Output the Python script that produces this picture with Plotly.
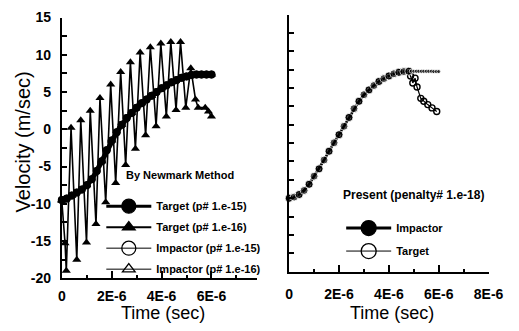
import plotly.graph_objects as go

FONT = "Liberation Sans, Arial, sans-serif"

# ---------------- data (time in microseconds, velocity in m/s) ----------------
# Left panel: Newmark method
newmark_t15_us = [0.0, 0.2, 0.4, 0.6, 0.8, 1.0, 1.2, 1.4, 1.6, 1.8, 2.0, 2.2, 2.4, 2.6, 2.8,
                  3.0, 3.2, 3.4, 3.6, 3.8, 4.0, 4.2, 4.4, 4.6, 4.8, 5.0, 5.2, 5.4, 5.6, 5.8, 6.0]
newmark_target15_v = [-9.5, -9.3, -8.9, -8.5, -8.1, -7.5, -6.7, -5.6, -4.3, -2.8, -1.5, -0.4, 0.6,
                      1.5, 2.2, 2.9, 3.5, 4.0, 4.5, 5.0, 5.5, 5.9, 6.3, 6.6, 6.9, 7.1, 7.3, 7.35,
                      7.35, 7.35, 7.35]
newmark_impactor15_v = [-9.5, -9.3, -8.9, -8.5, -8.1, -7.5, -6.7, -5.6, -4.3, -2.8, -1.5, -0.4, 0.6,
                        1.5, 2.2, 2.9, 3.5, 4.0, 4.5, 5.0, 5.5, 5.9, 6.3, 6.6, 6.9, 7.1, 7.3, 7.35,
                        7.35, 7.35, 7.35]

newmark_t16_us = [0.0, 0.13, 0.18, 0.37, 0.60, 0.76, 0.99, 1.14, 1.37, 1.53, 1.76, 1.96, 2.16,
                  2.36, 2.56, 2.75, 2.95, 3.14, 3.36, 3.55, 3.78, 3.97, 4.19, 4.37, 4.58, 4.76,
                  4.97, 5.17, 5.36, 5.47, 5.75, 5.88, 6.0]
newmark_target16_v = [-9.6, -15.3, -19.0, 0.2, -17.5, 1.2, -15.2, 2.5, -12.7, 4.2, -9.8, 6.0,
                      -7.2, 7.7, -4.8, 9.0, -2.6, 10.3, -0.8, 11.0, 0.4, 11.5, 1.7, 11.7, 2.6,
                      11.7, 2.9, 8.2, 4.0, 2.9, 2.9, 2.4, 1.7]
newmark_impactor16_t_us = [0.0, 0.4, 1.0, 1.6, 2.0, 2.4, 2.8, 3.2, 3.6, 4.0, 4.4, 4.8, 5.2,
                           5.6, 5.8, 6.0]
newmark_impactor16_v = [-9.5, -8.9, -7.5, -4.3, -1.5, 0.6, 2.2, 3.5, 4.5, 5.5, 6.3, 6.9, 7.3,
                        7.35, 7.35, 7.35]

# Right panel: present method (penalty# 1.e-18)
present_impactor_t_us = [0.0, 0.2, 0.4, 0.6, 0.8, 1.0, 1.2, 1.4, 1.6, 1.8, 2.0, 2.2, 2.4, 2.6,
                         2.8, 3.0, 3.2, 3.4, 3.6, 3.8, 4.0, 4.2, 4.4, 4.6, 4.8,
                         4.9, 5.0, 5.1, 5.2, 5.3, 5.4, 5.5, 5.6, 5.7, 5.8, 5.9, 6.0]
present_impactor_v = [-10.0, -9.85, -9.5, -8.95, -8.1, -7.0, -6.0, -4.8, -3.6, -2.45, -1.35,
                      -0.2, 1.0, 2.2, 3.2, 4.1, 4.75, 5.35, 5.9, 6.3, 6.65, 6.95, 7.15, 7.25,
                      7.3, 7.3, 7.3, 7.3, 7.3, 7.3, 7.3, 7.3, 7.3, 7.3, 7.25, 7.25, 7.25]
present_target_t_us = [0.0, 0.4, 0.8, 1.2, 1.6, 2.0, 2.4, 2.8, 3.2, 3.6, 4.0, 4.4, 4.8,
                       4.87, 4.96, 5.05, 5.13, 5.28, 5.40, 5.56, 5.73, 5.92]
present_target_v = [-10.0, -9.5, -8.1, -6.0, -3.6, -1.35, 1.0, 3.2, 4.75, 5.9, 6.65, 7.15, 7.3,
                    6.65, 5.7, 6.35, 5.15, 3.6, 3.2, 2.75, 2.3, 1.8]

# axis ticks
y_tickvals = [-20, -15, -10, -5, 0, 5, 10, 15]
y_ticktext = ["-20", "-15", "-10", "-5", "0", "5", "10", "15"]
x_tickvals_us = [0, 2, 4, 6, 8]
x_ticktext = ["0", "2E-6", "4E-6", "6E-6", "8E-6"]


def sec(ts):
    return [t * 1e-6 for t in ts]


fig = go.Figure()

# ---------------- left panel traces ----------------
fig.add_trace(go.Scatter(x=sec(newmark_impactor16_t_us), y=newmark_impactor16_v, mode="lines+markers",
                         line=dict(color="black", width=1),
                         marker=dict(symbol="triangle-up-open", size=7, color="black"),
                         cliponaxis=False, showlegend=False, xaxis="x", yaxis="y"))
fig.add_trace(go.Scatter(x=sec(newmark_t15_us), y=newmark_impactor15_v, mode="lines+markers",
                         line=dict(color="black", width=1),
                         marker=dict(symbol="circle-open", size=7, color="black"),
                         cliponaxis=False, showlegend=False, xaxis="x", yaxis="y"))
fig.add_trace(go.Scatter(x=sec(newmark_t16_us), y=newmark_target16_v, mode="lines+markers",
                         line=dict(color="black", width=1.6),
                         marker=dict(symbol="triangle-up", size=8, color="black"),
                         cliponaxis=False, showlegend=False, xaxis="x", yaxis="y"))
fig.add_trace(go.Scatter(x=sec(newmark_t15_us), y=newmark_target15_v, mode="lines+markers",
                         line=dict(color="black", width=5),
                         marker=dict(symbol="circle", size=8, color="black"),
                         cliponaxis=False, showlegend=False, xaxis="x", yaxis="y"))

# left legend entries
left_legend = [
    ("Target (p# 1.e-15)", "circle", 14, 3),
    ("Target (p# 1.e-16)", "triangle-up", 11, 2),
    ("Impactor (p# 1.e-15)", "circle-open", 14, 1),
    ("Impactor (p# 1.e-16)", "triangle-up-open", 11, 1),
]
for i, (name, sym, sz, lw) in enumerate(left_legend):
    fig.add_trace(go.Scatter(x=[None], y=[None], name=name, mode="lines+markers",
                             line=dict(color="black", width=lw),
                             marker=dict(symbol=sym, size=sz, color="black",
                                         line=dict(color="black", width=1.3)),
                             legend="legend", legendgroup=f"L{i}", xaxis="x", yaxis="y"))

# ---------------- right panel traces ----------------
imp_sizes = [8 if t <= 4.85 else 4 for t in present_impactor_t_us]
fig.add_trace(go.Scatter(x=sec(present_target_t_us), y=present_target_v, mode="lines+markers",
                         line=dict(color="black", width=1.2),
                         marker=dict(symbol="circle-open", size=6, color="black",
                                     line=dict(width=1.4)),
                         cliponaxis=False, showlegend=False, xaxis="x2", yaxis="y2"))
fig.add_trace(go.Scatter(x=sec(present_impactor_t_us), y=present_impactor_v, mode="lines+markers",
                         line=dict(color="black", width=2.5),
                         marker=dict(symbol="circle", size=imp_sizes, color="black"),
                         cliponaxis=False, showlegend=False, xaxis="x2", yaxis="y2"))

right_legend = [
    ("Impactor", "circle", 15, 3),
    ("Target", "circle-open", 15, 1),
]
for i, (name, sym, sz, lw) in enumerate(right_legend):
    fig.add_trace(go.Scatter(x=[None], y=[None], name=name, mode="lines+markers",
                             line=dict(color="black", width=lw),
                             marker=dict(symbol=sym, size=sz, color="black",
                                         line=dict(color="black", width=1.3)),
                             legend="legend2", legendgroup=f"R{i}", xaxis="x2", yaxis="y2"))

W, H = 519, 331


def px_x(p):
    return p / W


def px_y(p):
    return 1 - p / H


tick_font = dict(family=FONT, size=14, color="black", weight="bold")
common_axis = dict(showgrid=False, zeroline=False, showline=True, linecolor="black", linewidth=2,
                   ticks="inside", tickcolor="black", tickwidth=1.5, mirror=False)
legend_font = dict(family=FONT, size=11, color="black", weight="bold")

fig.update_layout(
    width=W, height=H, margin=dict(l=0, r=0, t=0, b=0),
    paper_bgcolor="white", plot_bgcolor="white",
    xaxis=dict(domain=[px_x(60), px_x(263)], range=[0, 7.84e-6], anchor="y",
               tickmode="array", tickvals=sec(x_tickvals_us[:4]), ticktext=x_ticktext[:4],
               ticklen=7, tickfont=tick_font, ticklabelstandoff=4,
               minor=dict(tickmode="linear", tick0=0, dtick=1e-6, ticklen=3, ticks="inside",
                          tickcolor="black", tickwidth=1.5),
               **common_axis),
    yaxis=dict(domain=[px_y(284), px_y(10)], range=[-20, 15], anchor="x",
               tickmode="array", tickvals=y_tickvals, ticktext=y_ticktext,
               ticklen=5, tickfont=tick_font, ticklabelstandoff=6,
               minor=dict(tickmode="linear", tick0=0, dtick=2.5, ticklen=5, ticks="inside",
                          tickcolor="black", tickwidth=1.5),
               **common_axis),
    xaxis2=dict(domain=[px_x(296), px_x(503)], range=[0, 8e-6], anchor="y2",
                tickmode="array", tickvals=sec(x_tickvals_us), ticktext=x_ticktext,
                ticklen=7, tickfont=tick_font, ticklabelstandoff=9,
                minor=dict(tickmode="linear", tick0=0, dtick=1e-6, ticklen=3, ticks="inside",
                           tickcolor="black", tickwidth=1.5),
                **common_axis),
    yaxis2=dict(domain=[px_y(277), px_y(7)], range=[-20, 15], anchor="x2",
                tickmode="array", tickvals=y_tickvals, showticklabels=False,
                ticklen=5,
                minor=dict(tickmode="linear", tick0=0, dtick=2.5, ticklen=5, ticks="inside",
                           tickcolor="black", tickwidth=1.5),
                **common_axis),
    legend=dict(x=px_x(101), y=px_y(193), xanchor="left", yanchor="top",
                bgcolor="rgba(0,0,0,0)", borderwidth=0, font=legend_font,
                itemwidth=45, traceorder="grouped", tracegroupgap=2, itemsizing="trace",
                itemclick=False, itemdoubleclick=False),
    legend2=dict(x=px_x(350), y=px_y(216), xanchor="left", yanchor="top",
                 bgcolor="rgba(0,0,0,0)", borderwidth=0, font=legend_font,
                 itemwidth=45, traceorder="grouped", tracegroupgap=4, itemsizing="trace",
                 itemclick=False, itemdoubleclick=False),
    annotations=[
        dict(text="Velocity (m/sec)", x=px_x(20), y=px_y(141), xref="paper", yref="paper",
             xanchor="center", yanchor="middle",
             textangle=-90, showarrow=False, font=dict(family=FONT, size=20, color="black")),
        dict(text="Time (sec)", x=px_x(165), y=px_y(320), xref="paper", yref="paper",
             xanchor="center", yanchor="middle",
             showarrow=False, font=dict(family=FONT, size=18, color="black")),
        dict(text="Time (sec)", x=px_x(403), y=px_y(320), xref="paper", yref="paper",
             xanchor="center", yanchor="middle",
             showarrow=False, font=dict(family=FONT, size=18, color="black")),
        dict(text="By Newmark Method", x=px_x(183), y=px_y(176), xref="paper", yref="paper",
             xanchor="center", yanchor="middle", showarrow=False, font=legend_font),
        dict(text="Present (penalty# 1.e-18)", x=px_x(350), y=px_y(197), xref="paper",
             yref="paper", xanchor="left", yanchor="middle", showarrow=False,
             font=dict(family=FONT, size=12, color="black", weight="bold")),
    ],
)

fig.write_html("out.html")
